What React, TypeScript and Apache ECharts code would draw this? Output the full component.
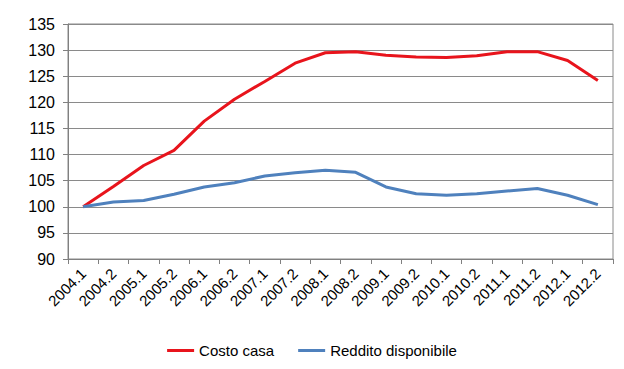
import React, { useEffect, useRef } from "react";
import * as echarts from "echarts";

const categories = [
  "2004.1", "2004.2", "2005.1", "2005.2", "2006.1", "2006.2", "2007.1", "2007.2", "2008.1",
  "2008.2", "2009.1", "2009.2", "2010.1", "2010.2", "2011.1", "2011.2", "2012.1", "2012.2",
];
const costoCasa = [
  100, 103.9, 107.9, 110.8, 116.4, 120.6, 124.0, 127.5, 129.5,
  129.7, 129.0, 128.7, 128.6, 128.9, 129.7, 129.7, 128.0, 124.2,
];
const redditoDisponibile = [
  100, 100.9, 101.2, 102.4, 103.8, 104.6, 105.9, 106.5, 107.0,
  106.6, 103.8, 102.5, 102.2, 102.5, 103.0, 103.5, 102.2, 100.4,
];
const yMin = 90;
const yMax = 135;
const yStep = 5;

const FONT = "'Liberation Sans', Arial, sans-serif";

export default function App() {
  const ref = useRef<HTMLDivElement>(null);
  useEffect(() => {
    if (!ref.current) return;
    const chart = echarts.init(ref.current, null, { renderer: "svg" });
    chart.setOption({
      animation: false,
      backgroundColor: "#ffffff",
      textStyle: { fontFamily: FONT },
      grid: {
        left: 68,
        right: 11,
        top: 24,
        bottom: 110,
        show: true,
        borderColor: "#8a8a8a",
        borderWidth: 1,
      },
      legend: {
        bottom: 6,
        left: "center",
        icon: "rect",
        itemWidth: 27,
        itemHeight: 3,
        itemGap: 24,
        textStyle: { fontFamily: FONT, fontSize: 15, color: "#000" },
        data: ["Costo casa", "Reddito disponibile"],
      },
      xAxis: {
        type: "category",
        data: categories,
        boundaryGap: true,
        axisLine: { lineStyle: { color: "#808080", width: 1 } },
        axisTick: { show: true, alignWithLabel: false, length: 5, lineStyle: { color: "#808080" } },
        axisLabel: {
          rotate: 45,
          margin: 12,
          fontSize: 15,
          color: "#000",
          fontFamily: FONT,
          interval: 0,
        },
        splitLine: { show: false },
      },
      yAxis: {
        type: "value",
        min: yMin,
        max: yMax,
        interval: yStep,
        axisLine: { show: true, lineStyle: { color: "#808080", width: 1 } },
        axisTick: { show: true, length: 5, lineStyle: { color: "#808080" } },
        axisLabel: { fontSize: 16, color: "#000", margin: 13, fontFamily: FONT },
        splitLine: { show: true, lineStyle: { color: "#8a8a8a", width: 1 } },
      },
      series: [
        {
          name: "Costo casa",
          type: "line",
          data: costoCasa,
          showSymbol: false,
          symbol: "none",
          lineStyle: { color: "#e8141c", width: 3 },
          itemStyle: { color: "#e8141c" },
        },
        {
          name: "Reddito disponibile",
          type: "line",
          data: redditoDisponibile,
          showSymbol: false,
          symbol: "none",
          lineStyle: { color: "#4f81bd", width: 3 },
          itemStyle: { color: "#4f81bd" },
        },
      ],
    });
    return () => chart.dispose();
  }, []);
  return <div ref={ref} style={{ width: 624, height: 369, position: "absolute", left: 0, top: 0 }} />;
}
